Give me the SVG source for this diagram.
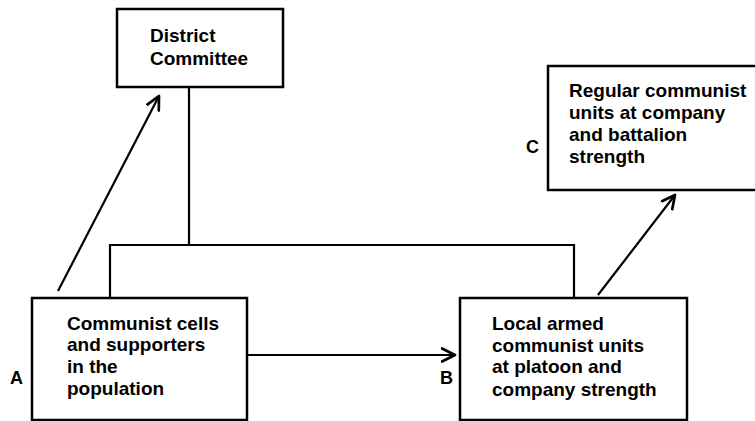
<svg xmlns="http://www.w3.org/2000/svg" width="755" height="421" viewBox="0 0 755 421">
<defs>
<style>
.box{fill:#fff;stroke:#000;stroke-width:2.5}
.t{font-family:"Liberation Sans",Arial,sans-serif;font-weight:bold;font-size:19px;fill:#000}
.lbl{font-family:"Liberation Sans",Arial,sans-serif;font-weight:bold;font-size:18px;fill:#000}
.ln{fill:none;stroke:#000;stroke-width:2.2}
</style>
<marker id="ah" viewBox="0 0 16 16" refX="14" refY="8" markerWidth="16" markerHeight="16" markerUnits="userSpaceOnUse" orient="auto">
<path d="M1,1.5 L14,8 L1,14.5" fill="none" stroke="#000" stroke-width="2.7" stroke-linecap="round" stroke-linejoin="round"/>
</marker>
</defs>
<rect width="755" height="421" fill="#fff"/>
<g id="connectors">
<path class="ln" d="M189,87 V245 M110,298 V245 H574 V298"/>
<line class="ln" x1="58" y1="291" x2="159" y2="96" marker-end="url(#ah)"/>
<line class="ln" x1="248" y1="355" x2="455" y2="355" marker-end="url(#ah)"/>
<line class="ln" x1="598" y1="295" x2="675" y2="195" marker-end="url(#ah)"/>
</g>
<g id="district">
<rect class="box" x="117" y="9" width="166" height="78"/>
<text class="t" x="150" y="42">District</text>
<text class="t" x="150" y="65">Committee</text>
</g>
<g id="regular">
<rect class="box" x="548" y="66" width="230" height="124"/>
<text class="t" x="569" y="97">Regular communist</text>
<text class="t" x="569" y="119">units at company</text>
<text class="t" x="569" y="141">and battalion</text>
<text class="t" x="569" y="163">strength</text>
<text class="lbl" x="526" y="153">C</text>
</g>
<g id="cells">
<rect class="box" x="32" y="298" width="215" height="122"/>
<text class="t" x="67" y="330">Communist cells</text>
<text class="t" x="67" y="351">and supporters</text>
<text class="t" x="67" y="373">in the</text>
<text class="t" x="67" y="395">population</text>
<text class="lbl" x="10" y="384">A</text>
</g>
<g id="local">
<rect class="box" x="460" y="298" width="227" height="122"/>
<text class="t" x="492" y="330">Local armed</text>
<text class="t" x="492" y="352">communist units</text>
<text class="t" x="492" y="373">at platoon and</text>
<text class="t" x="492" y="396">company strength</text>
<text class="lbl" x="440" y="384">B</text>
</g>
</svg>
